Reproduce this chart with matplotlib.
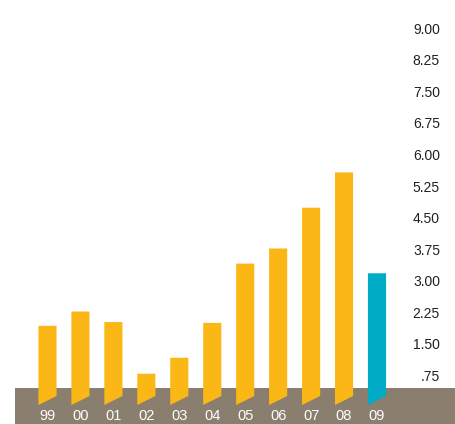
import matplotlib.pyplot as plt
from matplotlib.patches import Polygon, Rectangle
import matplotlib.transforms as mtransforms

plt.rcParams["font.family"] = ["Liberation Sans", "DejaVu Sans"]

YEARS  = ["99", "00", "01", "02", "03", "04", "05", "06", "07", "08", "09"]
VALUES = [1.96, 2.30, 2.05, 0.82, 1.20, 2.03, 3.44, 3.80, 4.77, 5.61, 3.21]
YTICKS = [0.75, 1.50, 2.25, 3.00, 3.75, 4.50, 5.25, 6.00, 6.75, 7.50, 8.25, 9.00]

GOLD  = "#fbb716"
TEAL  = "#00abc5"
BAND  = "#8a7e6f"

W, H = 456, 424
fig = plt.figure(figsize=(W / 100, H / 100), dpi=100)
ax = fig.add_axes([0, 0, 1, 1])
ax.set_axis_off()

# pixel layout: first bar centre at x=47.5, 33px apart; y=0 at 408px, 42px per unit
step, x0 = 32.95, 47.5
ppu, y0 = 42.03, 408.2
ax.set_xlim(-x0 / step, (W - x0) / step)
ax.set_ylim((y0 - H) / ppu, y0 / ppu)

# brown base band
band_top = (y0 - 388) / ppu
ax.add_patch(Rectangle((-(x0 - 15) / step, (y0 - H) / ppu), 20, band_top - (y0 - H) / ppu,
                       color=BAND, lw=0, zorder=1))

# bars with slanted bottoms dipping into the band
half = 0.275
bot_l, bot_r = 0.076, 0.29
for i, (yr, v) in enumerate(zip(YEARS, VALUES)):
    c = TEAL if yr == "09" else GOLD
    pts = [(i - half, bot_l), (i + half, bot_r), (i + half, v), (i - half, v)]
    ax.add_patch(Polygon(pts, closed=True, color=c, lw=0, zorder=2))
    ax.text(i, -0.18, yr, color="white", fontsize=10.5, ha="center", va="center", zorder=3)

# value scale on the right
trans = mtransforms.blended_transform_factory(ax.transAxes, ax.transData)
for t in YTICKS:
    lab = f"{t:.2f}"
    if lab.startswith("0"):
        lab = lab[1:]
    ax.text(440 / W, t, lab, transform=trans, fontsize=10, color="#231f20",
            ha="right", va="center")

fig.savefig("out.png", dpi=100)
